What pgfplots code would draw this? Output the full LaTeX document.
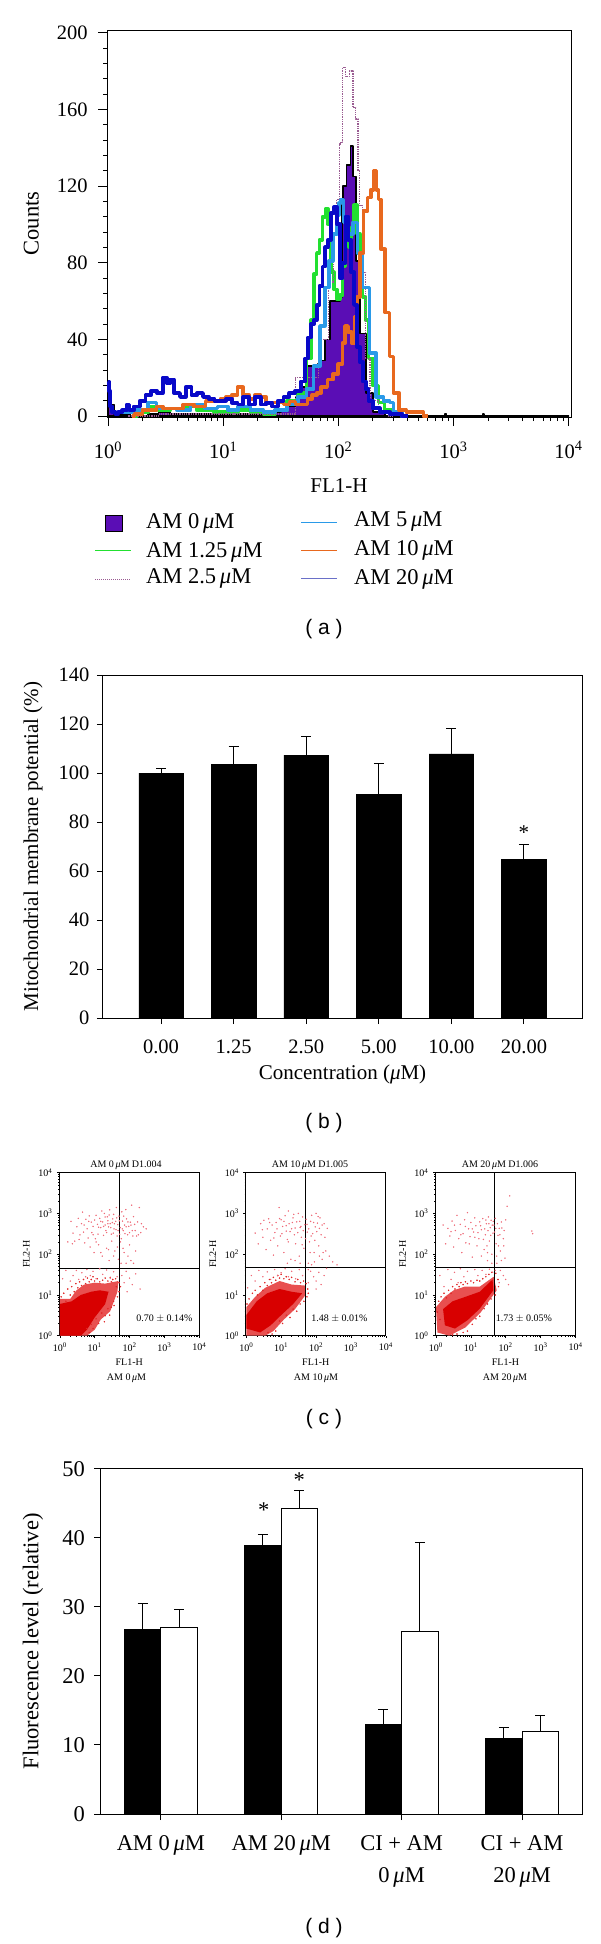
\documentclass[border=0pt]{standalone}
\usepackage{fontspec}
\setmainfont{Liberation Serif}
\newfontfamily\capfont{Liberation Sans}
\usepackage{pgfplots}
\pgfplotsset{compat=1.18}
\newcommand{\um}{{\itshape μ}M}
\newcommand{\lgf}{\fontsize{21}{25}\selectfont}
\newcommand{\tkf}{\fontsize{20.5}{24}\selectfont}
\newcommand{\ddf}{\fontsize{22.5}{27}\selectfont}
\newcommand{\smf}{\fontsize{10}{12}\selectfont}
\newcommand{\capf}{\capfont\fontsize{21}{25}\selectfont}
\definecolor{ampurple}{HTML}{5A0DB5}
\definecolor{amgreen}{HTML}{22E030}
\definecolor{amdot}{HTML}{9A5C92}
\definecolor{amlblue}{HTML}{2A9AE8}
\definecolor{amorange}{HTML}{E8681E}
\definecolor{amblue}{HTML}{0808C8}
\definecolor{amlegblue}{HTML}{6A70C8}
\definecolor{halo}{HTML}{E85050}
\definecolor{core}{HTML}{D80000}
\definecolor{edge}{HTML}{E02828}
\definecolor{speck}{HTML}{EE6A78}
\pgfplotsset{
  refbase/.style={scale only axis, enlargelimits=false, tick pos=left, tick align=outside,
    axis line style={black,line width=1pt}, tick style={black,line width=1pt},
    /pgf/number format/assume math mode=true},
  reflarge/.style={refbase, tick label style={font=\tkf}},
  dotaxis/.style={refbase, width=140pt, height=163pt,
    xmin=0.97, xmax=10000, ymin=1, ymax=10000,
    axis line style={black,line width=.7pt}, tick style={black,line width=.5pt},
    major tick length=2.5pt, minor tick length=1.2pt,
    xtick={1,10,100,1000,10000}, ytick={1,10,100,1000,10000},
    xticklabels={10\textsuperscript{0},10\textsuperscript{1},10\textsuperscript{2},10\textsuperscript{3},10\textsuperscript{4}},
    yticklabels={10\textsuperscript{0},10\textsuperscript{1},10\textsuperscript{2},10\textsuperscript{3},10\textsuperscript{4}},
    tick label style={font=\smf},
    xticklabel style={yshift=-1pt}, yticklabel style={xshift=-1pt},
    every axis y label/.style={at={(axis description cs:-.235,.5)},rotate=90,anchor=center,font=\smf},
    every axis x label/.style={at={(axis description cs:.5,-.165)},anchor=center,font=\smf},
    xlabel={FL1-H}, ylabel={FL2-H}},
  refdots/.style={only marks, mark=*, mark size=.48pt, speck},
  refedge/.style={only marks, mark=*, mark size=.55pt, edge},
  refhist/.style={const plot mark mid, no marks, line join=round},
  referr/.style={error bars/.cd, y dir=plus, y explicit,
    error bar style={line width=1pt,black},
    error mark options={rotate=90,black,line width=1pt,mark size=5pt}}
}
\begin{document}
\begin{tikzpicture}
\useasboundingbox (0,0) rectangle (600pt,-1944pt);

% (a) histogram overlay
\begin{axis}[reflarge, at={(107pt,-417pt)}, anchor=south west, width=464pt, height=387pt,
  xmode=log, xmin=0.98, xmax=10500, ymin=-0.5, ymax=201.4,
  xtick={1,10,100,1000,10000},
  xticklabels={10\textsuperscript{0},10\textsuperscript{1},10\textsuperscript{2},10\textsuperscript{3},10\textsuperscript{4}},
  ytick={0,40,80,120,160,200}, minor y tick num=4,
  major tick length=9pt, minor tick length=4pt,
  xticklabel style={yshift=-12pt}, yticklabel style={xshift=-7pt},
  every axis y label/.style={at={(axis description cs:-.163,.5)},rotate=90,anchor=center,font=\ddf},
  every axis x label/.style={at={(axis description cs:.5,-.178)},anchor=center,font=\lgf},
  xlabel={FL1-H}, ylabel={Counts}]
% AM 0
\addplot[refhist, fill=ampurple, draw=black, line width=1.6pt] coordinates {
 (1,18) (1.05,6) (1.2,1) (2,0) (2.5,1) (3,2) (4,1) (5,1) (7,1) (10,1) (15,1) (20,1) (30,2) (34,3)
 (40,5) (45,10) (49,15) (56,26) (63,26) (70,27) (73,29) (80,40) (89,60) (100,60) (106,62) (109,110)
 (112,120) (124,131) (131,141) (137,125) (147,81) (162,43) (186,12) (214,2) (300,0) (850,0) (850,1) (890,0)
 (1800,0) (1800,1) (1900,0) (10000,0)
} \closedcycle;
% AM 1.25
\addplot[refhist, amgreen, line width=3.6pt] coordinates {
 (1.6,0) (2,2) (2.5,5) (3,3) (4,4) (5,5) (7,3) (10,2) (12,2) (15,3) (20,2) (25,1) (32,3) (40,8) (50,12)
 (56.2,30) (59.6,50) (63.1,74) (66.8,85) (70.8,92) (75,104) (79.4,108) (84.1,100) (89.1,75) (94.4,66)
 (100,61) (106,63) (112,78) (119,90) (126,88) (133,98) (141,110) (150,95) (158,75) (168,62) (178,50)
 (188,30) (211,16) (237,7) (266,3) (316,1) (400,0)
};
% AM 2.5
\addplot[refhist, amdot, line width=1.3pt, densely dotted] coordinates {
 (1.5,0) (5,1) (30,1) (60,20) (75,40) (89,70) (94,95) (100,113) (104,142) (107,143) (112,182) (120,177)
 (131,180) (137,161) (147,155) (150,128) (155,110) (168,75) (178,30) (200,8) (250,2) (300,0)
};
% AM 5
\addplot[refhist, amlblue, line width=3.6pt] coordinates {
 (1.3,2) (2,3) (2.5,7) (2.8,4) (3.5,4) (4.5,3) (6,6) (8,4) (10,5) (12,3) (15,5) (20,3) (25,2) (32,3)
 (40,6) (50,10) (56.2,14) (66,26) (73,47) (80,67) (86,81) (94,95) (100,105) (102,111) (107,113) (116,101)
 (126,95) (142,101) (151,85) (174,67) (200,33) (226,10) (269,8) (290,7) (316,2) (400,0)
};
% AM 10
\addplot[refhist, amorange, line width=3.6pt] coordinates {
 (1.6,0) (1.8,1) (2.2,3) (2.5,3) (2.8,5) (3.2,4) (4,4) (5,6) (6.3,5) (7.9,8) (9,8) (10,9) (11.2,10)
 (12.6,11) (14.1,15) (15.8,11) (18,9) (20,11) (22.4,10) (25,7) (28,7) (31.6,7) (35.5,6) (40,7.5) (45,6)
 (52,6) (56,9) (63,11) (67,12) (75,15) (86,19) (95,22) (105,27) (112,38) (117,47) (126,44) (135,38)
 (142,52) (150,62) (157,85) (174,107) (186,114) (197,118) (208,128) (220,118) (227,113) (243,87) (269,54)
 (287,31) (316,12) (363,3) (420,2) (500,2) (600,0)
};
% AM 20
\addplot[refhist, amblue, line width=3.8pt] coordinates {
 (1,18) (1.03,13) (1.06,5) (1.12,2) (1.2,1) (1.26,2) (1.41,3) (1.5,6) (1.58,3) (1.78,5) (2,8) (2.24,11)
 (2.51,13) (2.82,12) (3.16,20) (3.35,17) (3.55,19) (3.98,12) (4.47,10) (5.01,15) (5.62,11) (6.31,12)
 (7.08,10) (7.94,9) (8.91,8) (10,8) (11.2,9) (12.6,7) (14.1,6) (15.8,10) (17.8,6) (20,10) (22.4,6)
 (25.1,7) (28.2,5) (31.6,8) (35.5,10) (39.8,12) (44.7,13) (50.1,18) (53.1,30) (56.2,41) (59.6,48)
 (63.1,50) (66.8,58) (70.8,68) (75,78) (79.4,88) (84.1,92) (89.1,106) (94.4,109) (100,100) (106,72)
 (112,80) (119,104) (126,92) (133,75) (141,58) (150,36) (158,28) (168,18) (178,14) (188,8) (211,4)
 (251,2) (316,1) (400,0)
};
\end{axis}
% legend of (a)
\draw[black,line width=1pt,fill=ampurple] (105pt,-515pt) rectangle (122pt,-531pt);
\draw[amgreen,line width=1pt] (95pt,-550pt) -- (131pt,-550pt);
\draw[amdot,line width=1pt,densely dotted] (95pt,-579pt) -- (131pt,-579pt);
\draw[amlblue,line width=1pt] (301pt,-522pt) -- (337pt,-522pt);
\draw[amorange,line width=1pt] (301pt,-550pt) -- (337pt,-550pt);
\draw[amlegblue,line width=1pt] (301pt,-578pt) -- (337pt,-578pt);
\begin{scope}[every node/.style={anchor=west,font=\ddf,inner sep=0pt}]
\node at (146pt,-523pt) {AM 0\,\um};
\node at (146pt,-552pt) {AM 1.25\,\um};
\node at (146pt,-578pt) {AM 2.5\,\um};
\node at (354pt,-521pt) {AM 5\,\um};
\node at (354pt,-550pt) {AM 10\,\um};
\node at (354pt,-579pt) {AM 20\,\um};
\end{scope}
\node[font=\capf] at (324pt,-629pt) {( a )};

% (b) mitochondrial membrane potential
\begin{axis}[reflarge, at={(103pt,-1018pt)}, anchor=south west, width=479pt, height=343pt,
  ymin=0, ymax=140, xmin=-0.8, xmax=5.8, ytick={0,20,...,140},
  xtick={0,...,5}, xticklabels={0.00,1.25,2.50,5.00,10.00,20.00},
  major tick length=6pt,
  xticklabel style={yshift=-12pt}, yticklabel style={xshift=-4pt},
  every axis y label/.style={at={(axis description cs:-.146,.5)},rotate=90,anchor=center,font=\lgf},
  every axis x label/.style={at={(axis description cs:.5,-.166)},anchor=center,font=\lgf},
  xlabel={Concentration (\um)}, ylabel={Mitochondrial membrane potential (\%)}]
\addplot[ybar, bar width=44.6pt, fill=black, draw=black, referr] coordinates {
 (0,100) +- (0,2) (1,103.5) +- (0,7.2) (2,107.3) +- (0,7.7) (3,91.3) +- (0,12.7) (4,107.8) +- (0,10.5) (5,64.8) +- (0,6.2)
};
\node[font=\lgf] at (axis cs:5,75.5) {*};
\end{axis}
\node[font=\capf] at (324pt,-1123pt) {( b )};

% (c) dot plots
\begin{axis}[dotaxis, xmode=log, ymode=log, at={(59.3pt,-1335.7pt)}, anchor=south west]
\addplot[draw=none,fill=halo] coordinates {(1,1) (1,8) (2,8) (3,13) (5,18) (10,20) (20,19) (48,22) (45,12) (28,4) (15,2.5) (10,1.4) (6,1)} -- cycle;
\addplot[draw=none,fill=core] coordinates {(1,1) (1,6) (2.2,7) (4,10) (8,12) (14,13) (25,12) (20,6) (10,2.8) (6,1.4) (4,1)} -- cycle;
\addplot[refedge] coordinates {
 (1.1,9) (1.3,11) (1.5,7) (1.7,14) (2,10) (2.2,16) (2.6,12) (2.9,19) (3.3,15) (3.7,21) (4.2,17) (4.8,24) (5.5,19) (6.2,26)
 (7,21) (8,24) (9,28) (10,22) (12,25) (14,21) (17,23) (20,26) (24,22) (28,27) (33,24) (40,25) (50,20) (55,16) (50,12) (45,9)
 (35,7) (30,5) (24,4.6) (20,3.1) (16,3.6) (13,2) (11,2.6) (9,1.5) (8,1.9) (7,1.2) (6,1.5) (19,2.2) (27,3.2) (36,5.5) (42,16) (30,21)
};
\addplot[refdots] coordinates {
 (1.7,200) (2.1,640) (2.4,330) (2.7,210) (3.1,470) (3.4,760) (3.6,230) (4.2,560) (4.5,1080) (4.8,350) (5.2,190) (5.6,720)
 (6.1,420) (6.5,250) (7,870) (7.4,150) (8,610) (8.3,340) (9,480) (9.6,110) (10,690) (10.5,240) (11,900) (12,540) (12.5,310)
 (13,170) (14,760) (15,450) (16,1150) (16.5,90) (17,620) (18,290) (19,1000) (20,520) (21,380) (22,140) (23,830) (24,660)
 (25,470) (26,70) (27,1230) (28,560) (30,310) (31,210) (33,740) (35,950) (36,420) (38,120) (40,640) (42,1400) (44,280)
 (46,530) (48,75) (50,860) (52,310) (55,200) (57,60) (60,1100) (63,650) (66,380) (70,110) (72,520) (78,1250) (82,740)
 (88,300) (95,480) (100,170) (105,610) (110,70) (115,1600) (120,380) (130,840) (140,540) (150,120) (160,280) (170,620)
 (190,1400) (210,340) (250,470) (300,420) (90,90) (130,60) (60,30) (70,20) (80,38) (100,26) (120,18) (150,33) (200,14) (85,12)
 (1.2,25) (1.5,40) (2,22) (2.4,30) (3,40) (3.5,24) (4.3,35) (5.5,28) (6,42) (7.5,30) (9,38) (11,25) (14,44) (17,32) (22,41)
 (28,26) (35,37) (44,28)
 (2.3,180) (3.8,300) (5,520) (6.8,640) (9,300) (11,200) (13,460) (15,640) (18,480) (20,820) (22,340) (24,560) (26,920) (29,450)
 (32,600) (34,330) (37,560) (41,400) (43,780) (47,380) (51,660) (54,450) (58,240) (62,420) (68,860) (74,320) (80,470) (90,620)
 (100,340) (110,520) (125,280) (145,380) (180,300) (220,560) (15,110) (25,130) (35,90) (45,150) (65,140) (80,60)
};
\addplot[black,line width=.8pt] coordinates {(52,1) (52,10000)};
\addplot[black,line width=.8pt] coordinates {(0.97,46) (10000,46)};
\node[font=\smf] at (axis cs:1000,2.7) {0.70 $\pm$ 0.14\%};
\end{axis}
\begin{axis}[dotaxis, xmode=log, ymode=log, at={(245.8pt,-1335.7pt)}, anchor=south west]
\addplot[draw=none,fill=halo] coordinates {(1,1) (1,5) (1.8,9) (3.5,15) (9,22) (20,18) (50,17) (50,10) (25,4.5) (12,2.5) (6,1.3) (3.5,1)} -- cycle;
\addplot[draw=none,fill=core] coordinates {(1,1.5) (1,3.2) (2,7) (4,11) (9,14) (20,12) (40,11) (22,6) (10,3.2) (5,1.8) (2.5,1.2)} -- cycle;
\addplot[refedge] coordinates {
 (1.05,6) (1.2,8) (1.5,11) (1.8,13) (2.1,10) (2.5,16) (3,13) (3.4,20) (4,17) (4.6,24) (5.3,20) (6,27) (7,23) (8,30) (9,26)
 (10,32) (12,25) (14,28) (17,24) (20,27) (25,21) (30,24) (36,20) (44,22) (52,19) (58,14) (55,9) (45,7) (35,6) (28,4) (22,4.5)
 (18,2.8) (14,3.2) (11,2) (9,2.3) (7,1.3) (5.5,1.1) (4.2,1.2) (60,11)
};
\addplot[refdots] coordinates {
 (1.8,330) (2.2,180) (2.6,560) (3,260) (3.2,680) (3.7,130) (4,420) (4.4,740) (5,220) (5.5,520) (6,95) (6.6,340) (7.2,600)
 (8,160) (8.8,1400) (9.5,280) (10,700) (11,480) (12,110) (13,880) (14,370) (15,230) (16,1150) (17,560) (19,75) (20,420)
 (22,780) (24,300) (26,180) (28,620) (31,1000) (33,90) (35,450) (38,260) (41,820) (45,140) (48,530) (52,720) (56,350)
 (60,60) (65,200) (70,640) (75,900) (80,320) (88,110) (95,470) (100,1000) (110,580) (120,160) (130,780) (140,300) (150,75)
 (170,560) (190,120) (210,430) (240,90) (300,65) (400,55) (70,38) (85,28) (100,22) (120,36) (140,18) (170,30) (200,45)
 (100,14) (60,20) (1.1,15) (1.4,30) (1.8,22) (2.3,40) (3,28) (4,37) (5,24) (6.5,42) (8,30) (10,35) (13,44) (16,28) (20,38)
 (26,25) (33,42) (41,30)
 (2.9,400) (4.7,600) (6.2,250) (7.6,420) (9,750) (10.5,320) (12,640) (14,500) (16,200) (18,360) (21,600) (23,950) (25,440)
 (30,340) (34,640) (37,480) (40,170) (43,380) (50,240) (55,540) (62,420) (68,110) (72,280) (85,600) (92,220) (105,360) (115,840)
 (125,430) (150,520) (180,260) (60,42) (75,55) (90,65) (125,90) (160,110) (35,60) (25,70) (15,60)
};
\addplot[black,line width=.8pt] coordinates {(49,1) (49,10000)};
\addplot[black,line width=.8pt] coordinates {(0.97,48) (10000,48)};
\node[font=\smf] at (axis cs:470,2.7) {1.48 $\pm$ 0.01\%};
\end{axis}
\begin{axis}[dotaxis, xmode=log, ymode=log, at={(435.5pt,-1335.7pt)}, anchor=south west]
\addplot[draw=none,fill=halo] coordinates {(1.1,1.2) (1,5) (1.8,9) (3.2,13) (6.7,16) (18,16) (45,28) (55,13) (19,3.7) (7,1.6) (2.4,1)} -- cycle;
\addplot[draw=none,fill=core] coordinates {(1.8,1.8) (1.6,4.5) (3,7) (7,9) (18,12) (42,24) (44,13) (18,4.6) (8,2.4) (3.5,1.5)} -- cycle;
\addplot[refedge] coordinates {
 (1.2,7) (1.4,9) (1.7,11) (2,8.5) (2.3,13) (2.7,11) (3,16) (3.5,14) (4,18) (4.6,16) (5.2,20) (6,18) (7,21) (8,19) (10,22)
 (12,20) (15,23) (18,22) (22,25) (27,28) (33,32) (40,36) (52,34) (60,24) (62,16) (50,10) (38,8) (30,6) (24,4.6) (18,3) (14,2.6)
 (11,1.9) (8,1.3) (6,1.2) (4,1.1) (3,1.05) (1.3,2.5) (1.1,3.8)
};
\addplot[refdots] coordinates {
 (1.6,520) (1.9,180) (2.2,430) (2.5,280) (2.9,650) (3.2,150) (3.6,380) (4,900) (4.5,240) (5,540) (5.5,110) (6,320) (6.6,700)
 (7.2,190) (8,1050) (8.6,420) (9.5,270) (10,600) (11,85) (12,350) (13,780) (14,500) (15,160) (17,240) (18,620) (20,400)
 (22,750) (24,130) (26,300) (28,560) (30,70) (32,820) (34,210) (36,450) (38,680) (40,100) (43,330) (46,520) (50,760) (53,180)
 (56,60) (60,290) (65,430) (70,120) (75,620) (85,240) (95,80) (110,1500) (130,2700) (100,700) (90,380) (560,370) (590,320)
 (70,40) (85,30) (100,24) (120,18) (65,20) (1.3,30) (1.7,16) (2.2,42) (2.7,24) (3.4,36) (4.3,20) (5,44) (6.3,28) (8,38)
 (10,22) (13,42) (16,30) (21,40) (27,32) (34,43) (42,36) (50,40)
 (2.7,360) (3.4,520) (5.2,300) (7,480) (9,180) (11,420) (13,260) (16,340) (19,500) (23,230) (25,420) (27,690) (29,160) (31,380)
 (33,560) (37,290) (41,520) (44,640) (48,350) (52,430) (58,560) (62,160) (68,300) (78,440) (88,160) (20,90) (30,110) (40,60) (55,90) (75,70)
};
\addplot[black,line width=.8pt] coordinates {(47,1) (47,10000)};
\addplot[black,line width=.8pt] coordinates {(0.97,48) (10000,48)};
\node[font=\smf] at (axis cs:330,2.7) {1.73 $\pm$ 0.05\%};
\end{axis}
\begin{scope}[every node/.style={font=\smf,inner sep=0pt}]
\node at (126pt,-1165pt) {AM 0\,\um\ D1.004};
\node at (310pt,-1165pt) {AM 10\,\um\ D1.005};
\node at (500pt,-1165pt) {AM 20\,\um\ D1.006};
\node at (126.5pt,-1378pt) {AM 0\,\um};
\node at (316pt,-1378pt) {AM 10\,\um};
\node at (505pt,-1378pt) {AM 20\,\um};
\end{scope}
\node[font=\capf] at (324pt,-1419pt) {( c )};

% (d) fluorescence level
\begin{axis}[reflarge, at={(100.4pt,-1814pt)}, anchor=south west, width=481.6pt, height=345.3pt,
  ybar=0pt, bar width=36.5pt, ymin=0, ymax=50, xmin=-0.502, xmax=3.498,
  ytick={0,10,...,50}, xtick={0,1,2,3}, major tick length=6pt,
  xticklabels={AM 0\,\um,AM 20\,\um,CI + AM\\0\,\um,CI + AM\\20\,\um},
  xticklabel style={align=center,font=\fontsize{22.5}{32}\selectfont,anchor=north,yshift=-12pt},
  yticklabel style={xshift=-6pt,font=\ddf},
  every axis y label/.style={at={(axis description cs:-.14,.5)},rotate=90,anchor=center,font=\ddf},
  ylabel={Fluorescence level (relative)}]
\addplot[fill=black, draw=black, line width=1pt, referr] coordinates {
 (0,26.7) +- (0,3.8) (1,38.9) +- (0,1.6) (2,13) +- (0,2.2) (3,11) +- (0,1.6)
};
\addplot[fill=white, draw=black, line width=1pt, referr] coordinates {
 (0,27) +- (0,2.6) (1,44.2) +- (0,2.7) (2,26.4) +- (0,12.9) (3,12) +- (0,2.2)
};
\node[font=\ddf] at (axis cs:0.855,44) {*};
\node[font=\ddf] at (axis cs:1.15,48.4) {*};
\end{axis}
\node[font=\capf] at (324pt,-1928pt) {( d )};
\end{tikzpicture}
\end{document}
